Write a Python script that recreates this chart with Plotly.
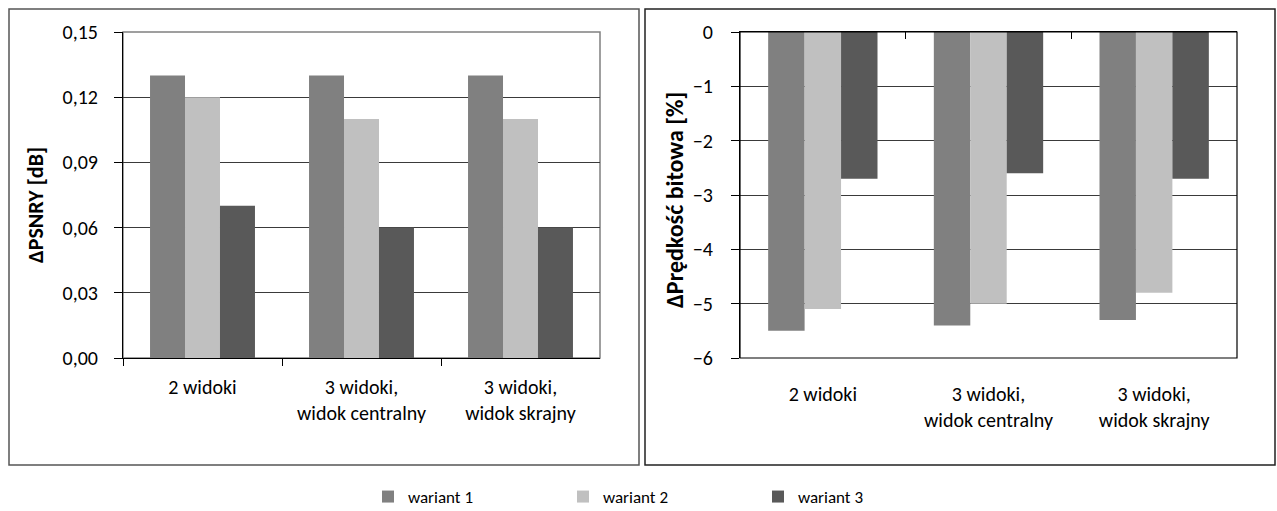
import plotly.graph_objects as go

categories = ["2 widoki", "3 widoki,<br>widok centralny", "3 widoki,<br>widok skrajny"]
series_names = ["wariant 1", "wariant 2", "wariant 3"]
colors = ["#808080", "#c0c0c0", "#595959"]

psnr_w1 = [0.13, 0.13, 0.13]
psnr_w2 = [0.12, 0.11, 0.11]
psnr_w3 = [0.07, 0.06, 0.06]

rate_w1 = [-5.5, -5.4, -5.3]
rate_w2 = [-5.1, -5.0, -4.8]
rate_w3 = [-2.7, -2.6, -2.7]

psnr_ticks = [0.0, 0.03, 0.06, 0.09, 0.12, 0.15]
rate_ticks = [0, -1, -2, -3, -4, -5, -6]

W, H = 1277, 511
FONT = "Carlito, Lato, 'Open Sans', sans-serif"

def fx(px):
    return px / W

def fy(py):
    return 1 - py / H

fig = go.Figure()
for name, vals, col in zip(series_names, [psnr_w1, psnr_w2, psnr_w3], colors):
    fig.add_trace(go.Bar(x=categories, y=vals, name=name, marker=dict(color=col, line=dict(width=0)),
                         xaxis="x", yaxis="y", legendgroup=name))
for name, vals, col in zip(series_names, [rate_w1, rate_w2, rate_w3], colors):
    fig.add_trace(go.Bar(x=categories, y=vals, name=name, marker=dict(color=col, line=dict(width=0)),
                         xaxis="x2", yaxis="y2", legendgroup=name, showlegend=False))

ydom = [fy(358), fy(32)]
ytickfont = dict(family=FONT, size=20, color="#000")
xtickfont = dict(family=FONT, size=20, color="#000")
grid = "#3a3a3a"

fig.update_layout(
    width=W, height=H, autosize=False,
    margin=dict(l=0, r=0, t=0, b=0, autoexpand=False),
    paper_bgcolor="white", plot_bgcolor="white",
    separators=", ",
    barmode="group", bargap=0.34, bargroupgap=0,
    font=dict(family=FONT, size=16, color="#000"),
    xaxis=dict(domain=[fx(123), fx(600)], anchor="y", type="category",
               showline=True, linecolor="#000", linewidth=1,
               ticks="outside", ticklen=7, tickcolor="#000", tickson="boundaries",
               tickfont=xtickfont, showgrid=False, ticklabelstandoff=11, automargin=False),
    yaxis=dict(domain=ydom, anchor="x", range=[0, 0.15], tickvals=psnr_ticks,
               tickformat=".2f", showline=True, linecolor="#000", linewidth=1,
               ticks="outside", ticklen=8, tickcolor="#000",
               showgrid=True, gridcolor=grid, gridwidth=1, zeroline=False,
               tickfont=ytickfont, ticklabelstandoff=12, automargin=False),
    xaxis2=dict(domain=[fx(740), fx(1237)], anchor="y2", type="category",
                showline=False, ticks="outside", ticklen=7, tickcolor="rgba(0,0,0,0)",
                tickfont=xtickfont, showgrid=False, ticklabelstandoff=11, automargin=False),
    yaxis2=dict(domain=ydom, anchor="x2", range=[-6, 0], tickvals=rate_ticks,
                showline=True, linecolor="#000", linewidth=1,
                ticks="outside", ticklen=8, tickcolor="#000",
                showgrid=True, gridcolor=grid, gridwidth=1, zeroline=False,
                tickfont=ytickfont, ticklabelstandoff=14, automargin=False),
    xaxis3=dict(domain=[fx(740), fx(1237)], anchor="y2", overlaying="x2", side="top",
                range=[-0.5, 2.5], tickvals=[0.5, 1.5], ticks="inside", ticklen=7,
                tickcolor="#000", showticklabels=False, showline=True,
                linecolor="#000", linewidth=1, showgrid=False, zeroline=False, automargin=False),
    legend=dict(orientation="h", x=fx(368), xanchor="left", y=fy(497), yanchor="middle",
                entrywidth=150, entrywidthmode="pixels", itemwidth=30,
                font=dict(family=FONT, size=17, color="#000"), bgcolor="rgba(0,0,0,0)"),
    shapes=[
        dict(type="rect", xref="paper", yref="paper", x0=fx(9), x1=fx(639), y0=fy(465), y1=fy(9),
             line=dict(color="#555", width=1.5), layer="below"),
        dict(type="rect", xref="paper", yref="paper", x0=fx(645), x1=fx(1275), y0=fy(465), y1=fy(9),
             line=dict(color="#222", width=1.5), layer="below"),
        dict(type="rect", xref="x domain", yref="y domain", x0=0, x1=1, y0=0, y1=1,
             line=dict(color="#808080", width=1.5), layer="below"),
        dict(type="rect", xref="x2 domain", yref="y2 domain", x0=0, x1=1, y0=0, y1=1,
             line=dict(color="#000", width=1.2), layer="above"),
    ],
    annotations=[
        dict(text="<b>ΔPSNRY [dB]</b>", xref="paper", yref="paper", x=fx(36), y=fy(205),
             textangle=-90, showarrow=False, font=dict(family=FONT, size=22, color="#000"),
             xanchor="center", yanchor="middle"),
        dict(text="<b>ΔPrędkość bitowa [%]</b>", xref="paper", yref="paper", x=fx(674), y=fy(200),
             textangle=-90, showarrow=False, font=dict(family=FONT, size=24, color="#000"),
             xanchor="center", yanchor="middle"),
    ],
)

fig.add_trace(go.Scatter(x=[], y=[], xaxis="x3", yaxis="y2", showlegend=False, hoverinfo="skip"))

fig.write_html("out.html", config={"displayModeBar": False},
               post_script="document.body.style.margin='0';document.body.style.overflow='hidden';")
